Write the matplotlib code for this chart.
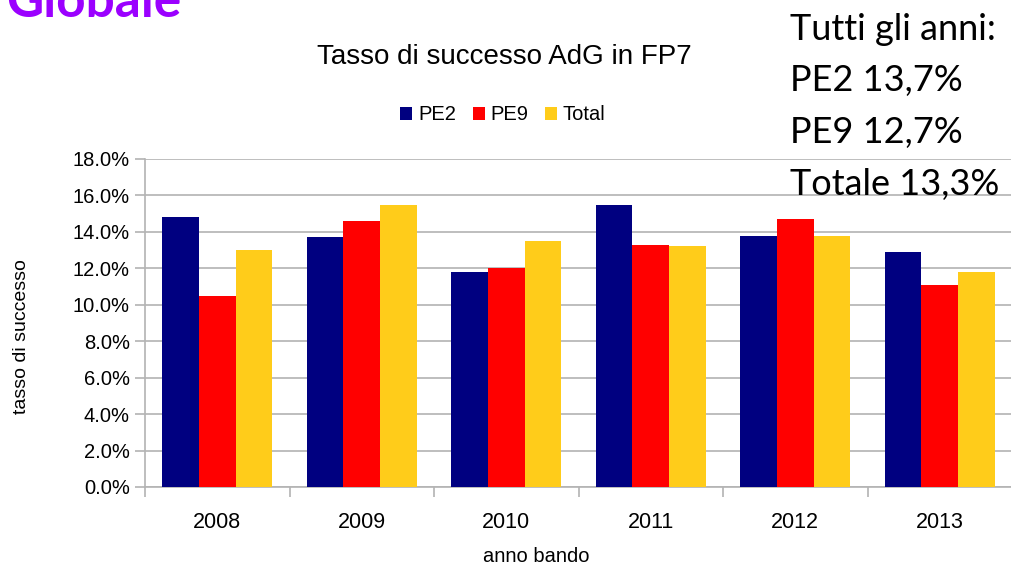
import numpy as np
import matplotlib
matplotlib.use("Agg")
import matplotlib.pyplot as plt
from matplotlib.ticker import FuncFormatter, FixedLocator

# data
anni = ["2008", "2009", "2010", "2011", "2012", "2013"]
pe2 = [14.8, 13.7, 11.8, 15.5, 13.8, 12.9]
pe9 = [10.5, 14.6, 12.0, 13.3, 14.7, 11.1]
total = [13.0, 15.5, 13.5, 13.2, 13.8, 11.8]
serie = ["PE2", "PE9", "Total"]
colori = ["#000080", "#ff0000", "#ffcc1a"]
riassunto = ["Tutti gli anni:", "PE2 13,7%", "PE9 12,7%", "Totale 13,3%"]

plt.rcParams['font.family'] = ['Liberation Sans', 'DejaVu Sans']

fig = plt.figure(figsize=(10.11, 5.66), dpi=100)
ax = fig.add_axes([145 / 1011, 79 / 566, 867 / 1011, 328 / 566])

x = np.arange(len(anni))
w = 0.2526
for k, (vals, col, nome) in enumerate(zip([pe2, pe9, total], colori, serie)):
    ax.bar(x + (k - 1) * w, np.array(vals) / 100, w, color=col, label=nome, zorder=3)

ax.set_xlim(-0.5, len(anni) - 0.5)
ax.set_ylim(0, 0.18)
ax.set_yticks(np.arange(0, 0.181, 0.02))
ax.yaxis.set_major_formatter(FuncFormatter(lambda v, p: "%.1f%%" % (v * 100)))
ax.set_xticks(x)
ax.set_xticklabels(anni, fontsize=15.5)
ax.xaxis.set_minor_locator(FixedLocator(np.arange(-0.5, len(anni), 1.0)))
ax.tick_params(axis='x', which='major', length=0, pad=18)
ax.tick_params(axis='x', which='minor', length=7, color='#b3b3b3', width=1.2)
ax.tick_params(axis='y', length=7, color='#b3b3b3', width=1.2, labelsize=14.5, pad=4)

ax.grid(axis='y', color='#b3b3b3', linewidth=1.2, zorder=0)
for s in ['top', 'right']:
    ax.spines[s].set_visible(False)
for s in ['left', 'bottom']:
    ax.spines[s].set_color('#b3b3b3')
    ax.spines[s].set_linewidth(1.2)

fig.text(22 / 1011, 1 - 337 / 566, "tasso di successo", fontsize=14, rotation=90,
         ha='center', va='center')
fig.text(536 / 1011, 1 - 556 / 566, "anno bando", fontsize=14.5, ha='center', va='center')

fig.text(504 / 1011, 1 - 57 / 566, "Tasso di successo AdG in FP7", fontsize=20,
         ha='center', va='center')
fig.legend(loc='center', bbox_to_anchor=(503 / 1011, 1 - 115 / 566), ncol=3,
           frameon=False, fontsize=14.5, handlelength=0.6, handleheight=0.6,
           handletextpad=0.3, columnspacing=0.8)

# testo a destra
for i, riga in enumerate(riassunto):
    fig.text(790 / 1011, 1 - (29 + 52 * i) / 566, riga, fontsize=26,
             family=['Lato', 'DejaVu Sans'], ha='left', va='center')

fig.text(6 / 1011, 1 - 17 / 566, "Globale", fontsize=37, fontweight='bold',
         color='#9b00ff', family=['Lato', 'DejaVu Sans'], ha='left', va='baseline')

fig.savefig("out.png", dpi=100)
